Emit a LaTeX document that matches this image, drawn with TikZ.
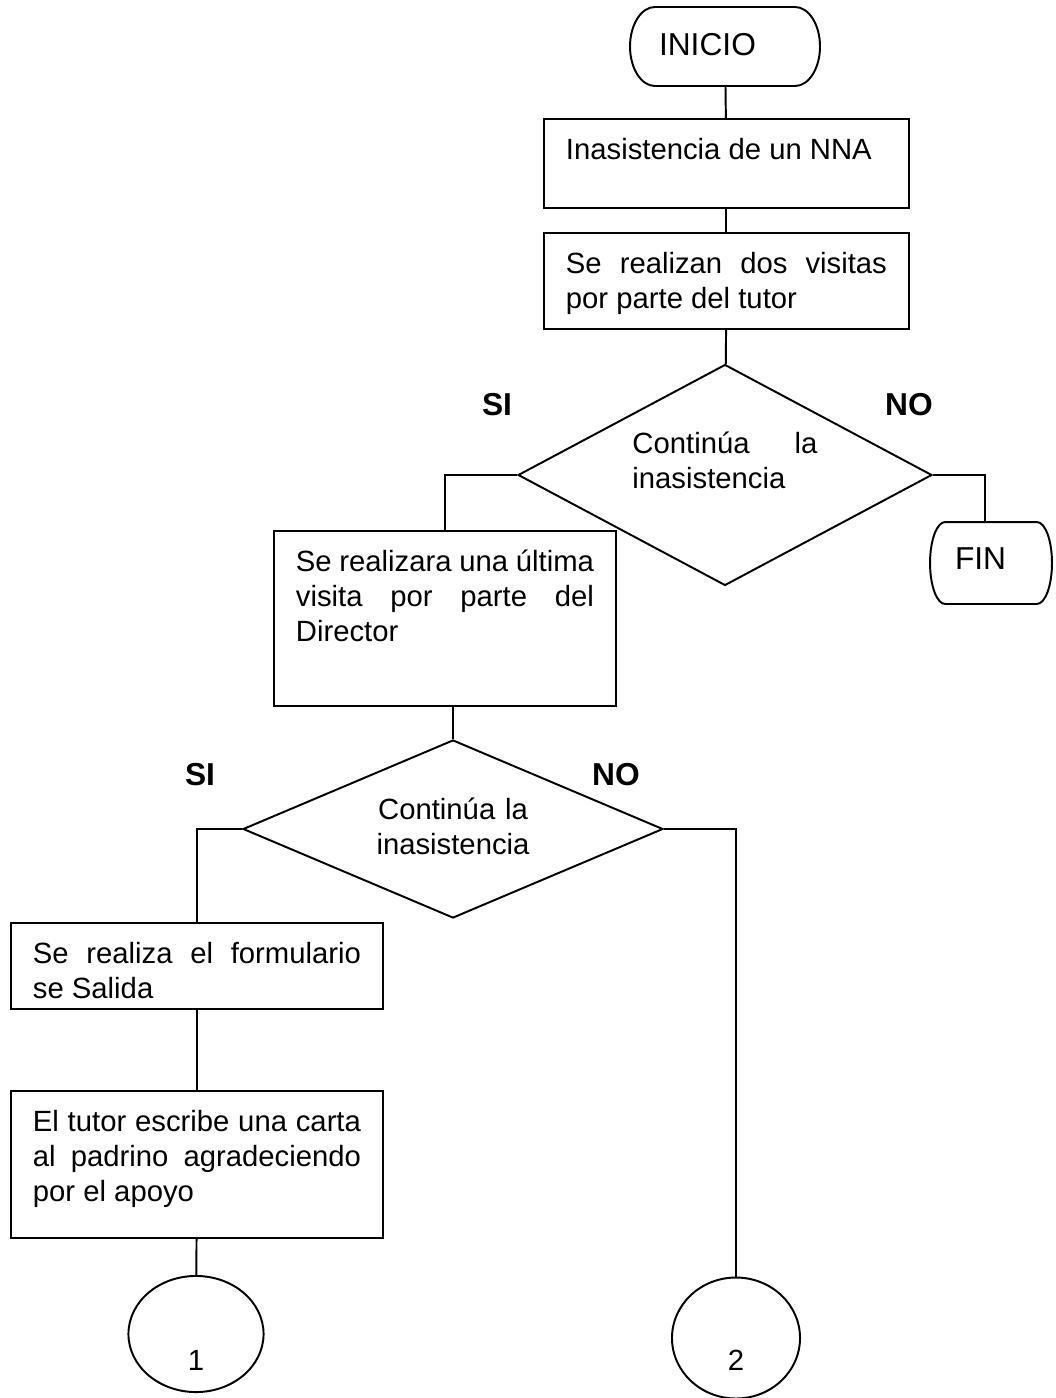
\documentclass[tikz,border=0pt]{standalone}
\usepackage{fontspec}
\setmainfont{Liberation Sans}
\usetikzlibrary{shapes.geometric}
% outline of a start/end node: flat top and bottom, half-ellipse ends
\newcommand{\termline}[3]{\draw ([xshift=#2]#1.north west) -- ([xshift=-#2]#1.north east) arc[start angle=90, end angle=-90, x radius=#2, y radius=#3] -- ([xshift=#2]#1.south west) arc[start angle=270, end angle=90, x radius=#2, y radius=#3] -- cycle;}
\begin{document}
\begin{tikzpicture}[x=0.41pt, y=-0.41pt, line width=0.8pt,
		font=\fontsize{12}{14.35}\selectfont,
		proc/.style={rectangle, draw, anchor=north west, inner xsep=9pt, inner ysep=0pt, align=justify, text height=16.8pt},
		term/.style={rectangle, inner ysep=0pt, outer sep=0pt, align=left, font=\fontsize{13}{15}\selectfont, text height=9.3pt},
		decision/.style={diamond, draw, inner sep=0pt},
		conn/.style={ellipse, draw, inner sep=0pt, text depth=0pt},
		answer/.style={font=\fontsize{13}{15}\selectfont\bfseries}]
		\useasboundingbox (0,0) rectangle (1055,1398);
		% first part
		\node (inicio) at (725,46.5) [term, minimum height=32.4pt, text width=54.1pt, inner xsep=11.9pt, text depth=2pt] {INICIO};
		\termline{inicio}{10.25pt}{16.2pt}
		\node (b1) at (543,118) [proc, text width=131.6pt, text depth=19.7pt] {Inasistencia de un NNA};
		\node (b2) at (543,232) [proc, text width=131.6pt, text depth=22.6pt] {Se realizan dos visitas\linebreak por parte del tutor};
		\node (d1) at (725,475) [decision, minimum width=169.7pt, minimum height=90.6pt, aspect=1.87, text width=75.9pt, align=justify, text height=9.5pt, text depth=27.5pt] {Contin\'ua la\linebreak inasistencia};
		\node (si1) at (497,405) [answer] {SI};
		\node (no1) at (909,405) [answer] {NO};
		\node (fin) at (991,563) [term, minimum height=33.6pt, text width=29.5pt, inner xsep=10.25pt, text depth=4pt] {FIN};
		\termline{fin}{6.2pt}{16.8pt}
		\node (b3) at (273,530) [proc, text width=122.2pt, text depth=54.9pt] {Se realizara una \'ultima\linebreak visita por parte del\linebreak Director};
		% second part
		\node (d2) at (453,829) [decision, minimum width=172.2pt, minimum height=73pt, aspect=2.36, text width=80pt, align=center, text height=9pt, text depth=17.2pt] {Contin\'ua la\\inasistencia};
		\node (si2) at (200,775) [answer] {SI};
		\node (no2) at (616,775) [answer] {NO};
		\node (b4) at (10,922) [proc, text width=134.5pt, text depth=18.5pt] {Se realiza el formulario\linebreak se Salida};
		\node (b5) at (10,1090) [proc, text width=134.5pt, text depth=43.5pt] {El tutor escribe una carta\linebreak al padrino agradeciendo\linebreak por el apoyo};
		\node (c1) at (196,1334) [conn, minimum width=55.4pt, minimum height=47.6pt, text height=30pt] {1};
		\node (c2) at (736,1338) [conn, minimum width=52.5pt, minimum height=49.6pt, text height=26.6pt] {2};
		% connectors
		\draw (inicio) -- (b1);
		\draw (b1) -- (b2);
		\draw (b2) -- (d1);
		\draw (d1.west) -| (b3);
		\draw (d1.east) -| ([xshift=-2.5pt]fin.north);
		\draw (b3.south -| d2.north) -- (d2.north);
		\draw (d2.west) -| (b4);
		\draw (d2.east) -| (c2);
		\draw (b4) -- (b5);
		\draw (b5) -- (c1);
	\end{tikzpicture}
\end{document}
